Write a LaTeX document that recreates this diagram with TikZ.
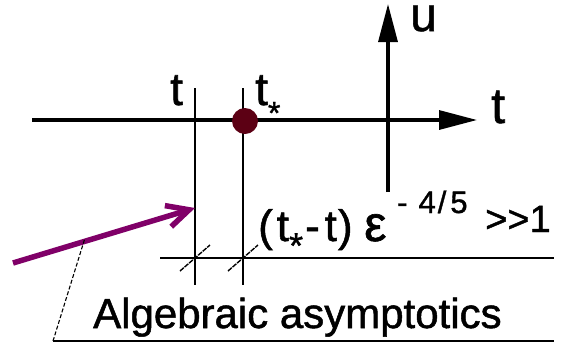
\documentclass[tikz,border=0pt]{standalone}
\usepackage{fontspec}
\setmainfont{Liberation Sans}[FakeBold=1.2]
\usetikzlibrary{arrows.meta}
\definecolor{dotred}{RGB}{92,0,20}
\definecolor{arrpurple}{RGB}{128,0,104}
\newcommand{\fs}[1]{\fontsize{#1}{#1}\selectfont}
\begin{document}
\begin{tikzpicture}[x=1pt,y=-1pt,
  axis/.style={line width=3.2pt, -{Triangle[length=38pt,width=19pt]}},
  thin/.style={line width=1.4pt},
  tickmark/.style={line width=1.4pt, dash pattern=on 5pt off 1pt},
  leader/.style={line width=1.1pt, dash pattern=on 4pt off 2pt},
  lbl/.style={inner sep=0pt, anchor=base west, text height=1ex, text depth=0pt}]
\useasboundingbox (0,0) rectangle (562,349);
% axes
\coordinate (axL) at (32,120);
\coordinate (axR) at (477,120);
\coordinate (uB) at (388,192);
\coordinate (uT) at (388,4);
\draw[axis] (axL) -- (axR);
\draw[axis] (uB) -- (uT);
% vertical lines
\coordinate (v1t) at (195,88);
\coordinate (v1b) at (195,285);
\coordinate (v2t) at (243,88);
\coordinate (v2b) at (243,285);
\draw[thin] (v1t) -- (v1b);
\draw[thin] (v2t) -- (v2b);
% horizontal lines
\coordinate (h1l) at (160,258);
\coordinate (h1r) at (554,258);
\draw[thin] (h1l) -- (h1r);
\coordinate (h2l) at (53,341);
\coordinate (h2r) at (554,341);
\draw[thin] (h2l) -- (h2r);
% ticks
\coordinate (k1) at (195,258);
\coordinate (k2) at (243,258);
\draw[tickmark] ([shift={(-15,13)}]k1) -- ([shift={(15,-13)}]k1);
\draw[tickmark] ([shift={(-15,13)}]k2) -- ([shift={(15,-13)}]k2);
% dot
\node[circle, fill=dotred, minimum size=26pt, inner sep=0pt] (dot) at (245,121) {};
% purple arrow
\coordinate (pa) at (13,263);
\coordinate (pb) at (195,208);
\draw[arrpurple, line width=5.5pt, -{Straight Barb[length=22pt,width=22pt]}] (pa) -- (pb);
% leader
\coordinate (ld) at (85,238);
\draw[leader] (h2l) -- (ld);
% labels
\node[lbl, font=\fs{46}] (tl) at (170,105) {t};
\node[lbl, font=\fs{46}] (ts) at (255,105) {t\raisebox{-19pt}{\fs{32}*}};
\node[lbl, font=\fs{48}] (u) at (410,31) {u};
\node[lbl, font=\fs{50}] (tr) at (491,123) {t};
\node[lbl, font=\fs{44}] (f1) at (258,241) {(\hspace{4pt}t\raisebox{-17pt}{\fs{36}*}\hspace{2pt}-\hspace{5pt}t\hspace{1pt})};
\node[lbl, font=\fs{50}] (eps) at (364,241) {ε};
\node[lbl, font=\fs{31}] (ex) at (397,213) {-\hspace{11pt}4\hspace{2pt}/\hspace{4pt}5};
\node[lbl, font=\fs{38}] (gg) at (485,232) {>{}>{}1};
\node[lbl, font=\fs{42}] (alg) at (93,328) {Algebraic asymptotics};
\end{tikzpicture}
\end{document}
